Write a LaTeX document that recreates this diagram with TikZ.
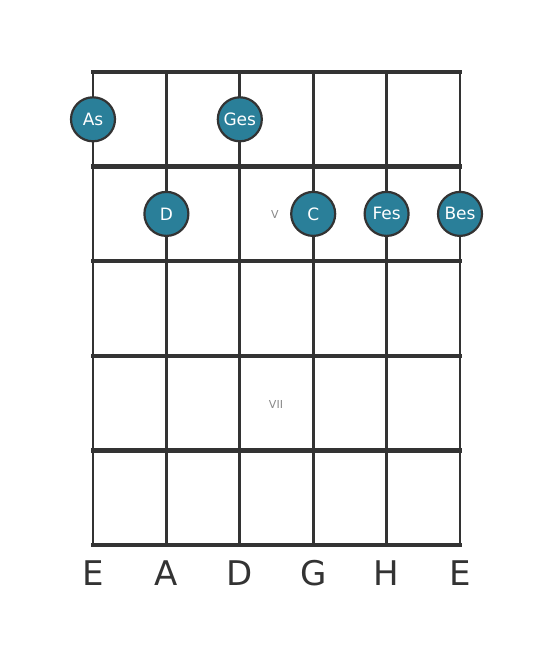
\documentclass[tikz,border=0pt]{standalone}
\usepackage{fontspec}
\setmainfont{DejaVu Sans}
\definecolor{dotfill}{HTML}{2A7F99}
\definecolor{ink}{HTML}{333333}
\definecolor{numeral}{HTML}{888888}
\begin{document}
\begin{tikzpicture}[x=1pt,y=-1pt,
  fret/.style={draw=ink,line width=4.5pt,line cap=rect},
  stringline/.style={draw=ink,line width=2.8pt},
  notedot/.style={circle,draw=ink,fill=dotfill,line width=2.2pt,minimum size=44pt,inner sep=0pt,text=white,font=\fontsize{17}{20}\selectfont},
  numlabel/.style={text=numeral,font=\fontsize{11}{13}\selectfont},
  stringname/.style={text=ink,font=\fontsize{34}{40}\selectfont}]
\useasboundingbox (0,0) rectangle (553,656);
% strings
\foreach \i/\x in {1/93,2/166.4,3/239.8,4/313.2,5/386.6,6/460}{
  \coordinate (st\i) at (\x,72);
  \coordinate (sb\i) at (\x,545);
  \draw[stringline] (st\i) -- (sb\i);
}
% frets
\foreach \j/\y in {0/72,1/166.6,2/261.2,3/355.8,4/450.4,5/545}{
  \coordinate (fl\j) at (93,\y);
  \coordinate (fr\j) at (460,\y);
  \draw[fret] (fl\j) -- (fr\j);
}
% numerals
\node[numlabel] (n5) at (275,214) {V};
\node[numlabel] (n7) at (276,404) {VII};
% dots
\node[notedot] (as) at (93,119.3) {As};
\node[notedot] (ges) at (239.8,119.3) {Ges};
\node[notedot] (d) at (166.4,213.9) {D};
\node[notedot] (c) at (313.2,213.9) {C};
\node[notedot] (fes) at (386.6,213.9) {Fes};
\node[notedot] (bes) at (460,213.9) {Bes};
% string names
\node[stringname] (l1) at (93,573) {E};
\node[stringname] (l2) at (166.4,573) {A};
\node[stringname] (l3) at (239.8,573) {D};
\node[stringname] (l4) at (313.2,573) {G};
\node[stringname] (l5) at (386.6,573) {H};
\node[stringname] (l6) at (460,573) {E};
\end{tikzpicture}
\end{document}
